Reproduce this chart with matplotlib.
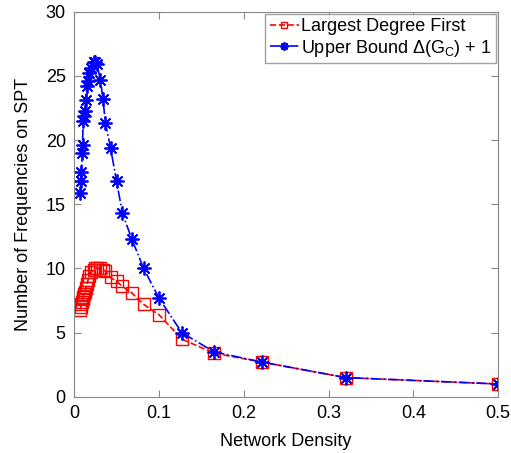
import numpy as np
import matplotlib.pyplot as plt

plt.rcParams['font.family'] = ['Liberation Sans', 'DejaVu Sans']
plt.rcParams['mathtext.fontset'] = 'custom'
plt.rcParams['mathtext.rm'] = 'Liberation Sans'
plt.rcParams['mathtext.it'] = 'Liberation Sans'

# network density values
density = [0.0074, 0.008, 0.0087, 0.0094, 0.010, 0.0106, 0.0115, 0.0126, 0.014, 0.0153,
           0.0164, 0.018, 0.020, 0.023, 0.025, 0.027, 0.031, 0.034, 0.037, 0.043,
           0.050, 0.057, 0.068, 0.082, 0.100, 0.127, 0.165, 0.222, 0.32, 0.5]

largest_degree_first = [6.8, 7.0, 7.2, 7.4, 7.6, 7.8, 8.0, 8.2, 8.5, 8.8,
                        9.1, 9.4, 9.7, 9.9, 10.0, 10.0, 10.0, 9.9, 9.8, 9.3,
                        9.0, 8.6, 8.1, 7.2, 6.4, 4.5, 3.4, 2.7, 1.5, 1.0]

upper_bound = [15.9, 16.8, 17.5, 19.0, 19.6, 21.5, 21.9, 22.3, 23.1, 24.2,
               24.6, 25.2, 25.6, 26.1, 26.1, 25.9, 24.7, 23.2, 21.3, 19.4,
               16.8, 14.3, 12.3, 10.0, 7.7, 5.0, 3.5, 2.7, 1.5, 1.0]

fig = plt.figure(figsize=(5.11, 4.53), dpi=100)
ax = fig.add_axes([0.145, 0.124, 0.830, 0.850])

ax.plot(density, largest_degree_first, color='#ff0000', linestyle='--', marker='s',
        markersize=8, markerfacecolor='none', markeredgewidth=1.0, linewidth=1.2,
        label='Largest Degree First')
ax.plot(density, upper_bound, color='#0000ff', linestyle='-.', marker=(8, 2, 0),
        markersize=10, markeredgewidth=1.3, linewidth=1.2,
        label=r'Upper Bound $\Delta$(G$_\mathrm{C}$) + 1')

ax.set_xlim(0, 0.5)
ax.set_ylim(0, 30)
ax.set_xticks([0, 0.1, 0.2, 0.3, 0.4, 0.5])
ax.set_xticklabels(['0', '0.1', '0.2', '0.3', '0.4', '0.5'])
ax.set_yticks(range(0, 31, 5))
ax.tick_params(direction='in', top=True, right=True, labelsize=13, length=5,
               color='#888888', pad=6)
for s in ax.spines.values():
    s.set_color('#888888')

ax.set_xlabel('Network Density', fontsize=13, labelpad=8)
ax.set_ylabel('Number of Frequencies on SPT', fontsize=13, labelpad=10)

leg = ax.legend(loc='upper right', fontsize=13, frameon=True, fancybox=False,
                handlelength=1.6, handletextpad=0.15, borderpad=0.25,
                labelspacing=0.15, borderaxespad=0.1, markerscale=0.6)
leg.get_frame().set_edgecolor('#888888')
leg.get_frame().set_linewidth(1.0)

fig.savefig('out.png', dpi=100)
